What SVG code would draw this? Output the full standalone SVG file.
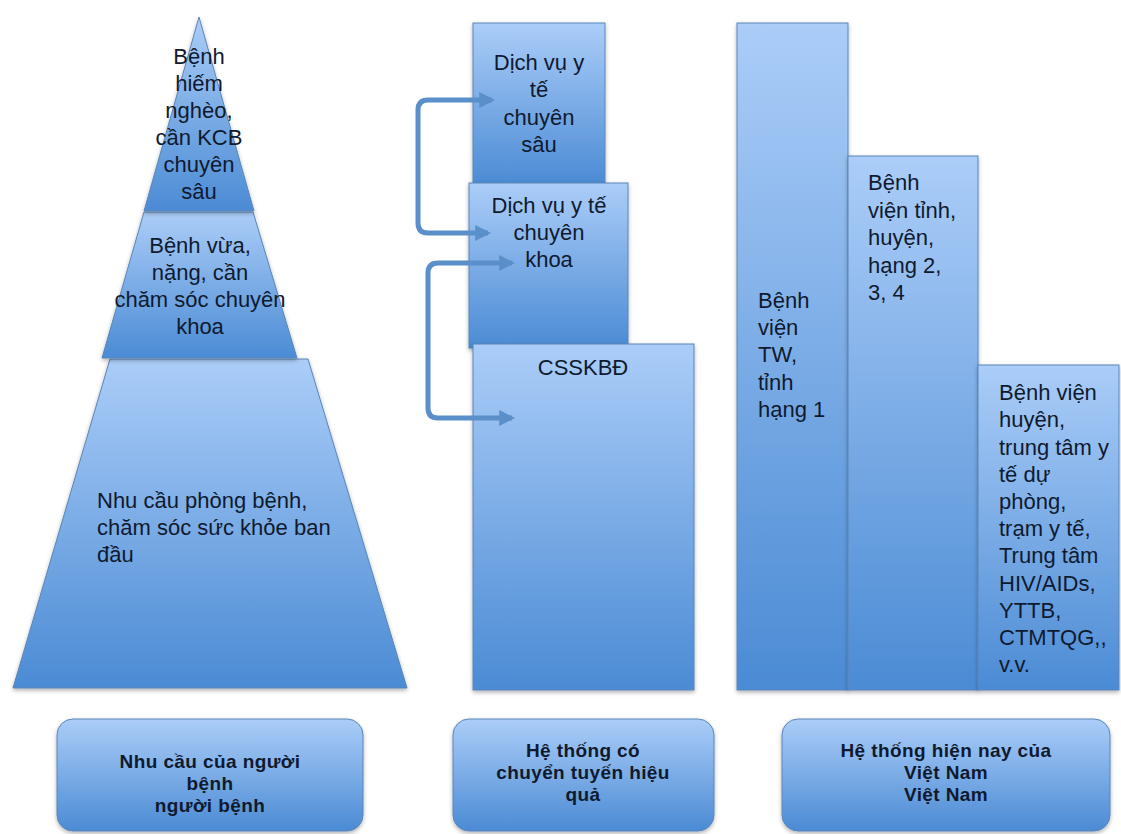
<svg xmlns="http://www.w3.org/2000/svg" width="1121" height="834" viewBox="0 0 1121 834">
<defs>
<linearGradient id="g" x1="0" y1="0" x2="0" y2="1">
<stop offset="0" stop-color="#abcdf8"/>
<stop offset="1" stop-color="#4b8bd4"/>
</linearGradient>
<filter id="sh" x="-10%" y="-10%" width="120%" height="120%">
<feDropShadow dx="0" dy="2" stdDeviation="2" flood-color="#000" flood-opacity="0.3"/>
</filter>
<marker id="ah" viewBox="0 0 10 10" refX="8" refY="5" markerWidth="3.2" markerHeight="3.2" orient="auto-start-reverse" markerUnits="strokeWidth">
<path d="M0,0 L10,5 L0,10 z" fill="#5b8fc9"/>
</marker>
<style>
.s{fill:url(#g);stroke:#5a85b8;stroke-width:1;filter:url(#sh)}
.t{font-family:"Liberation Sans",Arial,sans-serif;font-size:22px;fill:#0f1a2f}
.c{text-anchor:middle}
.b{font-weight:bold;font-size:19px;letter-spacing:0.4px}
.cn{fill:none;stroke:#5b8fc9;stroke-width:5;stroke-linejoin:round;stroke-linecap:butt}
</style>
</defs>
<rect width="1121" height="834" fill="#fff"/>

<g id="pyr-bottom">
<polygon class="s" points="110,359 308,359 407,688 13,688"/>
<text class="t" x="97" y="508">Nhu cầu phòng bệnh,</text>
<text class="t" x="97" y="535">chăm sóc sức khỏe ban</text>
<text class="t" x="97" y="562">đầu</text>
</g>
<g id="pyr-middle">
<polygon class="s" points="144,212 253,212 297,358 102,358"/>
<text class="t c" x="200" y="253">Bệnh vừa,</text>
<text class="t c" x="200" y="280">nặng, cần</text>
<text class="t c" x="200" y="307">chăm sóc chuyên</text>
<text class="t c" x="200" y="334">khoa</text>
</g>
<g id="pyr-top">
<polygon class="s" points="199,17 254,211 144,211"/>
<text class="t c" x="199" y="64">Bệnh</text>
<text class="t c" x="199" y="91">hiếm</text>
<text class="t c" x="199" y="118">nghèo,</text>
<text class="t c" x="199" y="145">cần KCB</text>
<text class="t c" x="199" y="172">chuyên</text>
<text class="t c" x="199" y="199">sâu</text>
</g>

<g id="dv-chuyen-sau">
<rect class="s" x="473" y="23" width="132" height="162"/>
<text class="t c" x="539" y="70">Dịch vụ y</text>
<text class="t c" x="539" y="97">tế</text>
<text class="t c" x="539" y="125">chuyên</text>
<text class="t c" x="539" y="152">sâu</text>
</g>
<g id="dv-chuyen-khoa">
<rect class="s" x="469" y="183" width="159" height="165"/>
<text class="t c" x="549" y="213">Dịch vụ y tế</text>
<text class="t c" x="549" y="240">chuyên</text>
<text class="t c" x="549" y="267">khoa</text>
</g>
<g id="csskbd">
<rect class="s" x="473" y="344" width="221" height="346"/>
<text class="t c" x="583" y="375">CSSKBĐ</text>
</g>

<g id="bv-tw">
<rect class="s" x="737" y="23" width="111" height="667"/>
<text class="t" x="758" y="308">Bệnh</text>
<text class="t" x="758" y="335">viện</text>
<text class="t" x="758" y="362">TW,</text>
<text class="t" x="758" y="390">tỉnh</text>
<text class="t" x="758" y="417">hạng 1</text>
</g>
<g id="bv-tinh">
<rect class="s" x="848" y="156" width="130" height="534"/>
<text class="t" x="868" y="190">Bệnh</text>
<text class="t" x="868" y="218">viện tỉnh,</text>
<text class="t" x="868" y="245">huyện,</text>
<text class="t" x="868" y="273">hạng 2,</text>
<text class="t" x="868" y="300">3, 4</text>
</g>
<g id="bv-huyen">
<rect class="s" x="978" y="365" width="141" height="325"/>
<text class="t" x="999" y="400">Bệnh viện</text>
<text class="t" x="999" y="427">huyện,</text>
<text class="t" x="999" y="455">trung tâm y</text>
<text class="t" x="999" y="482">tế dự</text>
<text class="t" x="999" y="509">phòng,</text>
<text class="t" x="999" y="536">trạm y tế,</text>
<text class="t" x="999" y="563">Trung tâm</text>
<text class="t" x="999" y="591">HIV/AIDs,</text>
<text class="t" x="999" y="618">YTTB,</text>
<text class="t" x="999" y="645">CTMTQG,,</text>
<text class="t" x="999" y="672">v.v.</text>
</g>

<g id="label-1">
<rect class="s" x="57" y="719" width="306" height="112" rx="16"/>
<text class="t b c" x="210" y="768">Nhu cầu của người</text>
<text class="t b c" x="210" y="790">bệnh</text>
<text class="t b c" x="210" y="812">người bệnh</text>
</g>
<g id="label-2">
<rect class="s" x="453" y="719" width="261" height="112" rx="16"/>
<text class="t b c" x="583" y="757">Hệ thống có</text>
<text class="t b c" x="583" y="779">chuyển tuyến hiệu</text>
<text class="t b c" x="583" y="801">quả</text>
</g>
<g id="label-3">
<rect class="s" x="782" y="719" width="328" height="112" rx="16"/>
<text class="t b c" x="946" y="757">Hệ thống hiện nay của</text>
<text class="t b c" x="946" y="779">Việt Nam</text>
<text class="t b c" x="946" y="801">Việt Nam</text>
</g>

<g id="connectors">
<path class="cn" d="M492,100 H428 Q418,100 418,110 V223 Q418,233 428,233 H488" marker-start="url(#ah)" marker-end="url(#ah)"/>
<path class="cn" d="M512,263 H438 Q428,263 428,273 V408 Q428,418 438,418 H512" marker-start="url(#ah)" marker-end="url(#ah)"/>
</g>
</svg>
